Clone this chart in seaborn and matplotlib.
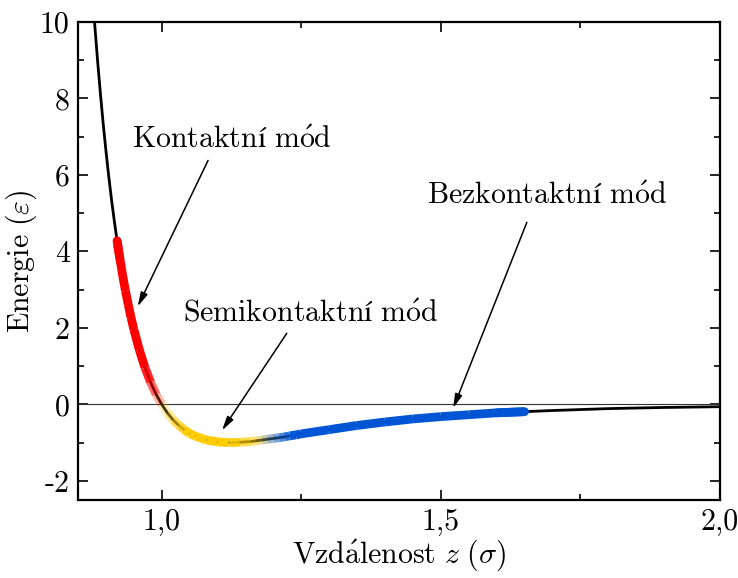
import numpy as np
import pandas as pd
import matplotlib
matplotlib.use("Agg")
import matplotlib.pyplot as plt
import seaborn as sns
from matplotlib.collections import LineCollection
from matplotlib.ticker import FixedLocator, FixedFormatter

# ---- data (distance z in sigma, energy in epsilon) ----
z_vals = [0.875, 0.88, 0.885, 0.89, 0.895, 0.90, 0.905, 0.91, 0.915, 0.92,
          0.925, 0.93, 0.935, 0.94, 0.945, 0.95, 0.96, 0.97, 0.98, 0.99,
          1.00, 1.01, 1.02, 1.03, 1.04, 1.05, 1.06, 1.08, 1.10, 1.12,
          1.14, 1.16, 1.17, 1.18, 1.19, 1.20, 1.21, 1.22, 1.23, 1.24,
          1.25, 1.30, 1.35, 1.40, 1.45, 1.50, 1.55, 1.60, 1.65, 1.70,
          1.80, 1.90, 2.00]
e_vals = [10.95, 9.93, 9.00, 8.15, 7.36, 6.64, 5.97, 5.36, 4.80, 4.28,
          3.81, 3.37, 2.97, 2.61, 2.27, 1.96, 1.42, 0.96, 0.58, 0.26,
          0.00, -0.22, -0.40, -0.54, -0.66, -0.76, -0.83, -0.93, -0.98, -1.00,
          -0.99, -0.97, -0.95, -0.93, -0.91, -0.89, -0.87, -0.85, -0.82, -0.80,
          -0.77, -0.66, -0.55, -0.46, -0.38, -0.32, -0.27, -0.22, -0.19, -0.16,
          -0.11, -0.08, -0.06]

# modes: name, coloured band, label text and arrow (text pos, arrow tail, arrow head)
mode_names = ["Kontaktní mód", "Semikontaktní mód", "Bezkontaktní mód"]
mode_labels = [r"$\mathrm{Kontaktní\ m\acute{o}d}$",
               r"$\mathrm{Semikontaktní\ m\acute{o}d}$",
               r"$\mathrm{Bezkontaktní\ m\acute{o}d}$"]
mode_colors = ["#ff0000", "#ffcc00", "#0055d4"]
# alpha ramp: (fade-in start, fully opaque from, opaque until, fade-out end)
mode_alpha = [(0.92, 0.92, 0.97, 1.005),
              (0.99, 1.045, 1.12, 1.22),
              (1.17, 1.235, 1.65, 1.65)]
mode_text_xy = [(1.126, 6.90), (1.267, 2.38), (1.690, 5.44)]
mode_arrow_tail = [(1.083, 6.38), (1.224, 1.86), (1.654, 4.76)]
mode_arrow_head = [(0.957, 2.56), (1.108, -0.68), (1.522, -0.10)]

x_ticks = [1.0, 1.5, 2.0]
x_ticklabels = ["1,0", "1,5", "2,0"]
y_ticks = [-2, 0, 2, 4, 6, 8, 10]
y_ticklabels = ["-2", "0", "2", "4", "6", "8", "10"]

# ---------------------------------------------------------------------------
sns.set_theme(style="white")
plt.rcParams["mathtext.fontset"] = "cm"
plt.rcParams["font.family"] = ["cmr10", "DejaVu Serif"]
plt.rcParams["axes.unicode_minus"] = False
plt.rcParams["text.color"] = "black"
plt.rcParams["axes.labelcolor"] = "black"
plt.rcParams["xtick.color"] = "black"
plt.rcParams["ytick.color"] = "black"

fig = plt.figure(figsize=(7.38, 5.78), dpi=100)
ax = fig.add_axes([78 / 738, 1 - 500 / 578, 642 / 738, 478 / 578])

df = pd.DataFrame({"z": z_vals, "E": e_vals})

ax.axhline(0, color="#333333", lw=0.8, zorder=1)
sns.lineplot(data=df, x="z", y="E", sort=False, color="black", lw=2.0,
             ax=ax, zorder=2)

band_lw = 6.3
z = np.asarray(z_vals)
e = np.asarray(e_vals)
pts = np.column_stack([z, e])
for i, (col, (a0, a1, a2, a3)) in enumerate(zip(mode_colors, mode_alpha)):
    rgba = matplotlib.colors.to_rgba(col)
    segs, cols = [], []
    for k in range(len(z) - 1):
        zm = 0.5 * (z[k] + z[k + 1])
        if z[k] < a0 - 1e-9 or z[k + 1] > a3 + 1e-9:
            continue
        if zm < a1:
            al = (zm - a0) / (a1 - a0)
        elif zm > a2:
            al = (a3 - zm) / (a3 - a2)
        else:
            al = 1.0
        al = max(0.0, min(1.0, al))
        segs.append(pts[k:k + 2])
        cols.append((rgba[0], rgba[1], rgba[2], al))
    lc = LineCollection(segs, colors=cols, linewidths=band_lw, capstyle="butt",
                        zorder=3)
    ax.add_collection(lc)

# round caps at the two outer ends of the coloured band
ax.plot([z_vals[9], z_vals[10]], [e_vals[9], e_vals[10]], color=mode_colors[0],
        lw=band_lw, solid_capstyle="round", zorder=3)
i_end = z_vals.index(1.65)
ax.plot([z_vals[i_end - 1], z_vals[i_end]], [e_vals[i_end - 1], e_vals[i_end]],
        color=mode_colors[2], lw=band_lw, solid_capstyle="round", zorder=3)

for lab, txy, tail, head in zip(mode_labels, mode_text_xy, mode_arrow_tail,
                                mode_arrow_head):
    ax.text(txy[0], txy[1], lab, fontsize=21.5, ha="center", va="center",
            color="black", zorder=5)
    ax.annotate("", xy=head, xytext=tail,
                arrowprops=dict(arrowstyle="-|>,head_length=0.7,head_width=0.18",
                                color="black", lw=1.1, shrinkA=0, shrinkB=0),
                zorder=5)

ax.set_xlim(0.85, 2.0)
ax.set_ylim(-2.5, 10)

ax.xaxis.set_major_locator(FixedLocator(x_ticks))
ax.xaxis.set_major_formatter(FixedFormatter(x_ticklabels))
ax.xaxis.set_minor_locator(FixedLocator([1.25, 1.75]))
ax.yaxis.set_major_locator(FixedLocator(y_ticks))
ax.yaxis.set_major_formatter(FixedFormatter(y_ticklabels))
ax.yaxis.set_minor_locator(FixedLocator([-1, 1, 3, 5, 7, 9]))

ax.tick_params(which="both", direction="in", top=True, right=True,
               left=True, bottom=True, width=1.2, colors="black",
               labelcolor="black")
ax.tick_params(which="major", length=7.5, labelsize=21.5)
ax.tick_params(which="minor", length=4)
ax.tick_params(axis="x", which="major", pad=6)
ax.tick_params(axis="y", which="major", pad=6)

for sp in ax.spines.values():
    sp.set_visible(True)
    sp.set_color("black")
    sp.set_linewidth(1.6)

ax.set_xlabel(r"$\mathrm{Vzd\acute{a}lenost}\ z\ (\sigma)$", fontsize=21.5,
              labelpad=1, color="black")
ax.set_ylabel(r"$\mathrm{Energie}\ (\varepsilon)$", fontsize=21.5, labelpad=1,
              color="black")

fig.savefig("out.png", dpi=100)
